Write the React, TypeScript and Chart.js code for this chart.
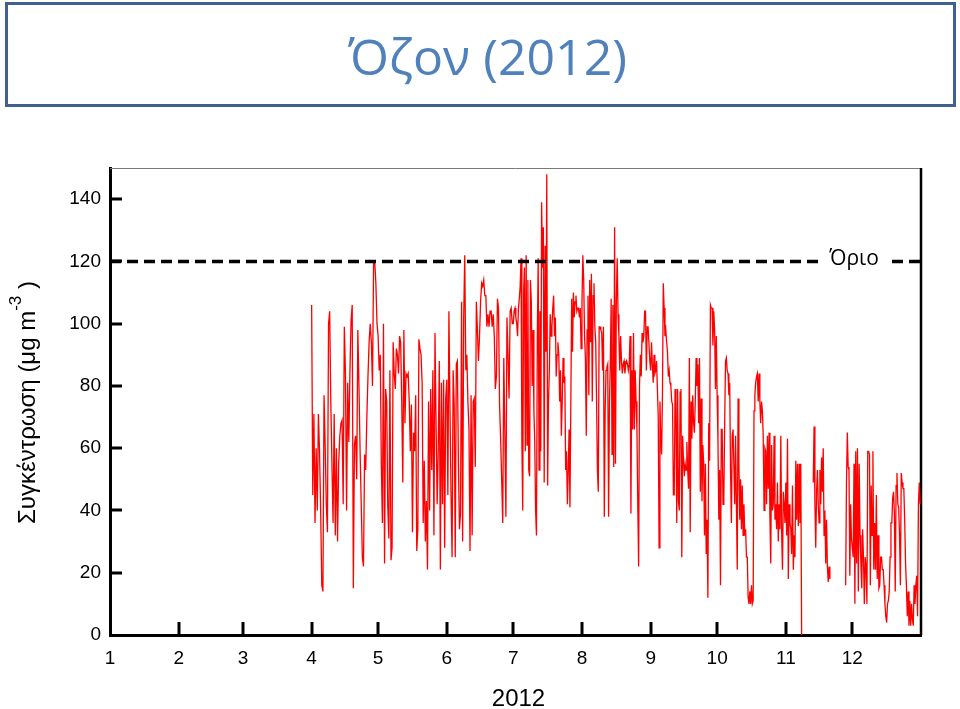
import React, { useEffect, useRef } from "react";
import { Chart, registerables } from "chart.js";

Chart.register(...registerables);

// Day-of-year at which each month starts (2012, leap year); last entry = end of year
const MONTH_STARTS = [0, 31, 60, 91, 121, 152, 182, 213, 244, 274, 305, 335, 366];
const MONTH_LABELS = ["1", "2", "3", "4", "5", "6", "7", "8", "9", "10", "11", "12"];
const Y_TICKS = [0, 20, 40, 60, 80, 100, 120, 140];
const LIMIT = 120;
const LIMIT_LABEL = "Όριο";
const TITLE = "Όζον (2012)";
const X_TITLE = "2012";
const Y_TITLE_MAIN = "Συγκέντρωση (μg m";
const Y_TITLE_SUP = "-3";
const Y_TITLE_END = " )";

// Ozone concentrations (μg m-3), values spread evenly within each month
const APR = [106,45,71,36,60,40,71,59,40,16,14,77,61,42,33,100,104,75,55,36,71,32,60,30,55,64,68,69,42,99,84,40,81,62,85,101,106,15,61,64,50,98,80,59,42,25,22,58,53,70,83,94,100,94,80,120,120,113,100];
const MAY = [96,85,90,55,36,100,23,79,75,41,31,85,24,28,94,84,79,92,90,84,96,94,75,49,98,68,84,83,84,75,59,74,33,65,59,77,27,34,95,92,90,81,36,56,30,43,21,75,40,79,53,85,32,97,68,42,59,88,21,81,42,82,28,76];
const JUN = [82,45,104,73,45,25,85,74,25,87,88,55,34,39,107,30,102,122,85,90,75,66,27,77,32,75,76,54,107,98,88,96,107,113,112,114,109,109,99,103,99,104,104,99,103,96,79,83,108,105,74,63,50,36,89,65,38,102,90,76,104,105,100];
const JUL = [100,104,105,102,100,96,105,108,112,121,62,40,110,118,59,122,61,114,53,51,114,107,80,98,72,62,40,32,96,121,53,104,59,139,118,131,49,125,91,148,48,75,85,103,96,99,105,109,96,102,83,90,94,90,75,85,64,75,89,81,83,53,59,42,53,66,41,74,108,91,110,102,107,109,104,105,105,102,105,92];
const AUG = [107,122,114,96,89,64,98,109,77,114,94,116,75,109,113,99,94,75,53,46,99,99,98,97,85,99,38,72,85,86,87,38,75,87,108,58,106,54,131,55,107,121,103,96,85,96,88,84,87,88,84,87,88,87,85,87,96,39,85,66,97,66,85,75,66,42,22,80,90,83,97,94,96,104,104,85,99,99,99,88];
const SEP = [85,94,87,81,90,84,85,88,79,70,28,75,64,58,77,113,105,96,98,94,91,83,85,81,80,75,74,45,45,79,75,36,79,43,40,78,79,25,64,56,51,55,53,62,53,47,89,33,75,63,77,68,65,75,89,80,87,68,89,46,76,43,61,55,32,55,26,37,12,68,56,106,105,105,93,104,98,79,96];
const OCT = [77,62,37,53,16,66,66,42,44,68,88,89,85,84,77,81,53,36,64,66,66,42,64,42,21,76,55,37,50,34,48,32,42,32,34,25,25,12,10,14,10,16,10,11,72,77,81,83,84,75,84,75,68,75,72,64,40,60,59,42,64,47,65,38,23,61,40,42,64,37,42,34,49,30,42,34,64,33,21,46,42,36];
const NOV = [49,32,63,18,42,36,34,26,48,21,32,25,56,37,55,35,55,36,55,0,
  null,null,null,null,null,null,null,null,null,null,null,null,null,
  49,67,42,28,46,53,42,36,53,42,57,46,60,32,40,23,37,22,17,22,18,
  null,null,null,null,null,null,null,null,null,null,null,null,null,null,null,null,null,null,
  16,49,65,54,53,19,42,31];
const DEC = [28,25,55,10,59,23,60,14,55,32,23,15,34,25,10,25,22,10,59,59,58,16,48,32,59,21,36,21,45,18,32,15,16,25,25,21,21,16,10,6,4,10,11,14,25,36,36,44,46,39,14,48,52,42,41,32,16,52,49,47,47,37,23,16,6,14,3,11,3,10,5,3,16,10,16,19,6,42,49,42];

const MONTH_DATA: Array<[number, (number | null)[]]> = [
  [3, APR], [4, MAY], [5, JUN], [6, JUL], [7, AUG], [8, SEP], [9, OCT], [10, NOV], [11, DEC],
];

function buildPoints() {
  const pts: { x: number; y: number | null }[] = [];
  for (const [m, arr] of MONTH_DATA) {
    const start = MONTH_STARTS[m];
    const len = MONTH_STARTS[m + 1] - start;
    arr.forEach((v, i) => pts.push({ x: start + (i * len) / arr.length, y: v }));
  }
  return pts;
}

const decorPlugin = {
  id: "decor",
  beforeDatasetsDraw(chart: any) {
    const { ctx, chartArea: a, scales } = chart;
    ctx.save();
    // top border (thin grey) and right border (black)
    ctx.strokeStyle = "#7a7a7a";
    ctx.lineWidth = 1;
    ctx.beginPath();
    ctx.moveTo(a.left, a.top + 0.5);
    ctx.lineTo(a.right, a.top + 0.5);
    ctx.stroke();
    ctx.strokeStyle = "#000";
    ctx.lineWidth = 2.5;
    ctx.beginPath();
    ctx.moveTo(a.right, a.top);
    ctx.lineTo(a.right, a.bottom);
    ctx.stroke();
    // inward ticks
    ctx.lineWidth = 3;
    ctx.beginPath();
    for (let i = 1; i < MONTH_STARTS.length - 1; i++) {
      const x = Math.round(scales.x.getPixelForValue(MONTH_STARTS[i]));
      ctx.moveTo(x, a.bottom);
      ctx.lineTo(x, a.bottom - 13);
    }
    for (const v of Y_TICKS) {
      if (v === 0) continue;
      const y = Math.round(scales.y.getPixelForValue(v));
      ctx.moveTo(a.left, y);
      ctx.lineTo(a.left + 12, y);
    }
    ctx.stroke();
    ctx.restore();
  },
  afterDatasetsDraw(chart: any) {
    const { ctx, chartArea: a, scales } = chart;
    ctx.save();
    const y = scales.y.getPixelForValue(LIMIT);
    ctx.strokeStyle = "#000";
    ctx.lineWidth = 3.5;
    ctx.setLineDash([11, 6]);
    ctx.beginPath();
    ctx.moveTo(a.left, y);
    ctx.lineTo(a.right, y);
    ctx.stroke();
    ctx.setLineDash([]);
    // label with white background
    ctx.font = '21px "Open Sans", sans-serif';
    const lx = 854;
    const w = ctx.measureText(LIMIT_LABEL).width;
    ctx.fillStyle = "#fff";
    ctx.fillRect(lx - w / 2 - 10, y - 14, w + 20, 28);
    ctx.fillStyle = "#000";
    ctx.textAlign = "center";
    ctx.textBaseline = "middle";
    ctx.fillText(LIMIT_LABEL, lx, y - 2);

    // x title
    ctx.font = '24px "Liberation Sans", Arial, sans-serif';
    ctx.textBaseline = "alphabetic";
    ctx.fillText(X_TITLE, (a.left + a.right) / 2 + 3, a.bottom + 71);

    // y title rotated with superscript
    ctx.translate(28, (a.top + a.bottom) / 2 + 1);
    ctx.rotate(-Math.PI / 2);
    ctx.textAlign = "left";
    ctx.textBaseline = "middle";
    const mainFont = '24px "Liberation Sans", Arial, sans-serif';
    const supFont = '17px "Liberation Sans", Arial, sans-serif';
    ctx.font = mainFont;
    const w1 = ctx.measureText(Y_TITLE_MAIN).width;
    const w3 = ctx.measureText(Y_TITLE_END).width;
    ctx.font = supFont;
    const w2 = ctx.measureText(Y_TITLE_SUP).width;
    const total = w1 + w2 + w3;
    let x0 = -total / 2;
    ctx.font = mainFont;
    ctx.fillText(Y_TITLE_MAIN, x0, 0);
    x0 += w1;
    ctx.font = supFont;
    ctx.fillText(Y_TITLE_SUP, x0, -12);
    x0 += w2;
    ctx.font = mainFont;
    ctx.fillText(Y_TITLE_END, x0, 0);
    ctx.restore();
  },
};

export default function App() {
  const ref = useRef<HTMLCanvasElement | null>(null);
  useEffect(() => {
    if (!ref.current) return;
    const chart = new Chart(ref.current, {
      type: "line",
      data: {
        datasets: [
          {
            label: "O3",
            data: buildPoints() as any,
            borderColor: "#ff0000",
            borderWidth: 1.3,
            pointRadius: 0,
            spanGaps: false,
            tension: 0,
          },
        ],
      },
      options: {
        animation: false,
        responsive: false,
        layout: { padding: { top: 168, right: 39, left: 0, bottom: 0 } },
        plugins: { legend: { display: false }, tooltip: { enabled: false }, title: { display: false } },
        scales: {
          x: {
            type: "linear",
            min: 0,
            max: 366,
            afterBuildTicks: (s: any) => {
              s.ticks = MONTH_STARTS.slice(0, 12).map((v) => ({ value: v }));
            },
            afterFit: (s: any) => {
              s.height = 74;
            },
            ticks: {
              autoSkip: false,
              maxRotation: 0,
              padding: 12,
              color: "#000",
              font: { family: '"Liberation Sans", Arial, sans-serif', size: 19 },
              callback: (_v: any, i: number) => MONTH_LABELS[i],
            },
            grid: { display: false, drawTicks: false },
            border: { display: true, color: "#000", width: 3 },
          },
          y: {
            min: 0,
            max: 150,
            afterBuildTicks: (s: any) => {
              s.ticks = Y_TICKS.map((v) => ({ value: v }));
            },
            afterFit: (s: any) => {
              s.width = 110;
            },
            ticks: {
              padding: 9,
              color: "#000",
              font: { family: '"Liberation Sans", Arial, sans-serif', size: 19 },
              callback: (v: any) => String(v),
            },
            grid: { display: false, drawTicks: false },
            border: { display: true, color: "#000", width: 3 },
          },
        },
      },
      plugins: [decorPlugin],
    });
    return () => chart.destroy();
  }, []);

  return (
    <div style={{ position: "fixed", left: 0, top: 0, width: 960, height: 709, background: "#fff" }}>
      <div
        style={{
          position: "absolute",
          left: 5,
          top: 2,
          width: 951,
          height: 105,
          boxSizing: "border-box",
          border: "3px solid #3f6090",
          display: "flex",
          alignItems: "center",
          justifyContent: "center",
          color: "#4f81bd",
          fontFamily: '"Open Sans", sans-serif',
          fontSize: 50,
          lineHeight: 1,
          paddingTop: 2,
          paddingLeft: 14,
        }}
      >
        {TITLE}
      </div>
      <canvas
        ref={ref}
        width={960}
        height={709}
        style={{ position: "absolute", left: 0, top: 0, width: 960, height: 709 }}
      />
    </div>
  );
}
